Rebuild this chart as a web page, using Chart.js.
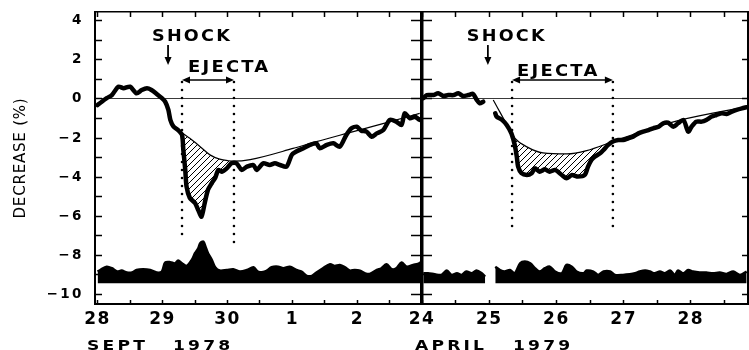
<!DOCTYPE html>
<html lang="en">
<head>
<meta charset="utf-8">
<title>Cosmic-ray decreases, Sept 1978 and April 1979</title>
<script src="https://cdn.jsdelivr.net/npm/chart.js@4.4.1/dist/chart.umd.min.js"></script>
<style>
  html, body { margin: 0; padding: 0; background: #fff; width: 749px; height: 350px; overflow: hidden; }
  canvas { position: absolute; top: 0; }
  #sept { left: 0; }
  #april { left: 400px; }
</style>
</head>
<body>
<canvas id="sept" width="424" height="360"></canvas>
<canvas id="april" width="349" height="360"></canvas>
<script>
// ---- Data ---------------------------------------------------------------
// Time is in days after 00 UT of the first labelled day of each panel.
const septTickLabels = ['28', '29', '30', '1', '2'];
const aprilTickLabels = ['24', '25', '26', '27', '28'];

// September 1978 event
const septDays = [0.00,0.065,0.14,0.22,0.32,0.40,0.50,0.60,0.68,0.76,0.83,0.91,0.99,1.04,1.09,1.12,1.17,1.24,1.30,1.32,1.35,1.37,1.42,1.50,1.55,1.60,1.65,1.70,1.76,1.81,1.86,1.91,1.99,2.06,2.14,2.22,2.30,2.40,2.45,2.55,2.65,2.73,2.81,2.91,2.99,3.06,3.17,3.27,3.37,3.42,3.53,3.63,3.73,3.83,3.91,3.99,4.06,4.14,4.22,4.30,4.40,4.50,4.60,4.68,4.73,4.81,4.88,4.96];
const septDecrease = [-0.31,-0.14,0.04,0.20,0.63,0.55,0.63,0.29,0.46,0.55,0.46,0.26,0.04,-0.14,-0.56,-1.07,-1.42,-1.59,-1.84,-2.60,-3.63,-4.49,-5.06,-5.32,-5.68,-6.02,-5.32,-4.65,-4.30,-4.04,-3.63,-3.72,-3.55,-3.29,-3.29,-3.63,-3.46,-3.38,-3.63,-3.29,-3.38,-3.29,-3.38,-3.46,-2.86,-2.69,-2.52,-2.35,-2.27,-2.52,-2.35,-2.27,-2.44,-1.84,-1.50,-1.42,-1.62,-1.67,-1.93,-1.76,-1.59,-1.07,-1.16,-1.33,-0.73,-0.99,-0.90,-1.07];
const septTrendDays = [1.17,1.24,1.30,1.32,1.42,1.58,1.73,1.88,2.01,2.10,2.35,3.01,3.37,3.88,4.45,4.96];
const septTrend = [-1.40,-1.58,-1.72,-1.78,-2.01,-2.44,-2.86,-3.08,-3.16,-3.18,-3.10,-2.53,-2.18,-1.72,-1.21,-0.74];
const septLowerDays = [0.00,0.04,0.14,0.22,0.30,0.37,0.45,0.53,0.60,0.70,0.81,0.91,0.99,1.04,1.12,1.19,1.24,1.30,1.37,1.45,1.50,1.55,1.58,1.63,1.67,1.70,1.76,1.81,1.88,1.99,2.09,2.19,2.30,2.40,2.47,2.58,2.68,2.78,2.86,2.96,3.06,3.14,3.22,3.30,3.37,3.47,3.58,3.65,3.73,3.81,3.88,3.96,4.04,4.12,4.19,4.30,4.37,4.45,4.53,4.60,4.68,4.76,4.86,4.93,4.98];
const septLower = [-8.83,-8.75,-8.58,-8.66,-8.83,-8.78,-8.88,-8.88,-8.75,-8.71,-8.75,-8.88,-8.83,-8.37,-8.35,-8.41,-8.27,-8.41,-8.54,-8.24,-7.89,-7.64,-7.38,-7.30,-7.64,-7.89,-8.24,-8.61,-8.78,-8.75,-8.71,-8.83,-8.75,-8.61,-8.83,-8.83,-8.61,-8.58,-8.66,-8.58,-8.75,-8.83,-9.05,-9.05,-8.88,-8.66,-8.46,-8.54,-8.49,-8.61,-8.78,-8.75,-8.78,-8.92,-8.95,-8.75,-8.66,-8.46,-8.71,-8.66,-8.37,-8.58,-8.49,-8.44,-8.35];
const septShock = 1.085;
const septEjecta = [1.30, 2.10];

// April 1979 event (null = no data)
const aprilDays = [0.02,0.07,0.17,0.24,0.32,0.39,0.47,0.54,0.61,0.69,0.76,0.81,0.86,0.91,1.00,1.09,1.11,1.19,1.26,1.33,1.38,1.41,1.43,1.48,1.56,1.63,1.68,1.75,1.83,1.90,1.98,2.08,2.15,2.23,2.32,2.42,2.47,2.52,2.57,2.65,2.70,2.77,2.84,2.92,2.99,3.07,3.14,3.22,3.29,3.37,3.44,3.52,3.59,3.66,3.74,3.81,3.89,3.96,4.01,4.08,4.16,4.23,4.31,4.38,4.46,4.53,4.61,4.68,4.76,4.83];
const aprilDecrease = [0.04,0.20,0.20,0.29,0.15,0.20,0.20,0.29,0.15,0.20,0.26,-0.02,-0.22,-0.14,null,-0.73,-0.90,-1.07,-1.33,-1.76,-2.35,-2.95,-3.46,-3.80,-3.89,-3.80,-3.55,-3.72,-3.60,-3.72,-3.63,-3.89,-4.06,-3.89,-3.97,-3.89,-3.46,-3.12,-2.95,-2.78,-2.61,-2.35,-2.18,-2.10,-2.10,-2.01,-1.93,-1.76,-1.67,-1.59,-1.50,-1.42,-1.24,-1.21,-1.42,-1.24,-1.07,-1.67,-1.42,-1.16,-1.16,-1.07,-0.90,-0.82,-0.73,-0.77,-0.65,-0.56,-0.48,-0.42];
const aprilTrendDays = [1.06,1.34,1.38,1.56,1.80,2.16,2.45,2.84,3.34,3.85,4.83];
const aprilTrend = [-0.05,-1.78,-2.00,-2.45,-2.76,-2.81,-2.64,-2.18,-1.59,-1.07,-0.39];
const aprilLowerDays = [0.02,0.09,0.19,0.29,0.37,0.44,0.52,0.59,0.66,0.74,0.81,0.89,0.94,1.00,1.09,1.16,1.23,1.31,1.38,1.46,1.53,1.61,1.68,1.75,1.83,1.90,1.98,2.08,2.15,2.23,2.30,2.40,2.45,2.55,2.62,2.70,2.80,2.87,2.99,3.09,3.17,3.24,3.32,3.39,3.46,3.54,3.61,3.69,3.76,3.81,3.89,3.96,4.03,4.13,4.23,4.33,4.43,4.53,4.63,4.73,4.83];
const aprilLower = [-8.92,-8.92,-8.97,-9.00,-8.78,-9.00,-8.92,-9.00,-8.83,-8.92,-8.78,-8.92,-9.09,null,-8.58,-8.75,-8.83,-8.75,-8.92,-8.41,-8.32,-8.41,-8.66,-8.83,-8.66,-8.58,-8.83,-8.92,-8.49,-8.58,-8.83,-8.92,-8.78,-8.83,-9.00,-8.83,-8.83,-9.00,-9.00,-8.97,-8.92,-8.83,-8.78,-8.83,-8.92,-8.83,-8.92,-8.78,-9.00,-8.78,-8.92,-8.75,-8.83,-8.88,-8.88,-8.92,-8.88,-8.95,-8.83,-9.00,-8.83];
const aprilShock = 0.98;
const aprilEjecta = [1.34, 2.84];

// ---- Styling helpers ----------------------------------------------------
const FONT = "'DejaVu Sans', 'Liberation Sans', sans-serif";
const INK = '#000';
const Y_MIN = -10.49, Y_MAX = 4.45;
const LOWER_BASE = -9.43;

Chart.defaults.font.family = FONT;
Chart.defaults.color = INK;

const xy = (xs, ys) => xs.map((x, i) => ({ x, y: ys[i] }));
const within = (xs, ys, [a, b]) => xy(xs, ys).filter(p => p.x >= a - 1e-6 && p.x <= b + 1e-6);

function hatchPattern() {
  const s = 6;
  const c = document.createElement('canvas');
  c.width = c.height = s;
  const g = c.getContext('2d');
  g.strokeStyle = INK;
  g.lineWidth = 1;
  g.beginPath();
  g.moveTo(0, s); g.lineTo(s, 0);
  g.moveTo(-s / 2, s / 2); g.lineTo(s / 2, -s / 2);
  g.moveTo(s / 2, s * 1.5); g.lineTo(s * 1.5, s / 2);
  g.stroke();
  return g.createPattern(c, 'repeat');
}
const HATCH = hatchPattern();

const dayLabel = labels => v => (Number.isInteger(v) && labels[v] !== undefined ? labels[v] : '');
const pctLabel = v => (v % 2 === 0 ? (v < 0 ? '\u2212' + (-v) : String(v)) : '');
const zeroLine = c => (c.tick && c.tick.value === 0 ? '#3a3a3a' : 'rgba(0,0,0,0)');

function noPad(s) { s.paddingTop = s.paddingBottom = s.paddingLeft = s.paddingRight = 0; }
const fixWidth = w => s => { s.width = w; noPad(s); };
const fixHeight = h => s => { s.height = h; noPad(s); };

const tickMarks = (len) => ({ drawOnChartArea: false, tickLength: len, tickColor: INK, tickWidth: 1.5 });

function xScales(min, max, labels) {
  return {
    x: {
      type: 'linear', axis: 'x', position: 'bottom', min, max,
      ticks: { stepSize: 0.5, includeBounds: false, autoSkip: false, maxRotation: 0, padding: 9,
               font: { family: FONT, size: 17, weight: 'bold' }, color: INK, callback: dayLabel(labels) },
      grid: tickMarks(-4),
      border: { color: INK, width: 2 },
      afterFit: fixHeight(56)
    },
    xTop: {
      type: 'linear', axis: 'x', position: 'top', min, max,
      ticks: { display: false, stepSize: 0.5, includeBounds: false },
      grid: tickMarks(-5),
      border: { color: INK, width: 1.5 },
      afterFit: fixHeight(0)
    }
  };
}

const yBase = { type: 'linear', axis: 'y', min: Y_MIN, max: Y_MAX };

function datasets(p) {
  const base = { pointRadius: 0, pointHoverRadius: 0, xAxisID: 'x', yAxisID: 'y', spanGaps: false };
  return [
    { ...base, label: 'Decrease', data: xy(p.days, p.decrease), borderColor: INK, borderWidth: 4.5,
      tension: 0.25, borderJoinStyle: 'round', borderCapStyle: 'round', fill: false },
    { ...base, label: 'Trend', data: xy(p.trendDays, p.trend), borderColor: INK, borderWidth: 1.2,
      cubicInterpolationMode: 'monotone', fill: false },
    { ...base, label: 'Ejecta deficit', data: within(p.trendDays, p.trend, p.ejecta), borderWidth: 0,
      borderColor: 'rgba(0,0,0,0)', cubicInterpolationMode: 'monotone', backgroundColor: HATCH, fill: { target: 0 } },
    { ...base, label: 'Lower trace', data: xy(p.lowerDays, p.lower), borderColor: INK, borderWidth: 2.5,
      tension: 0.3, backgroundColor: INK, fill: { value: LOWER_BASE } },
    ...p.ejecta.map((t, i) => ({
      ...base, label: 'Ejecta boundary', data: [{ x: t, y: p.markTop }, { x: t, y: p.markBottom[i] }],
      borderColor: INK, borderWidth: 2.6, borderDash: [0.1, 7.9], borderCapStyle: 'round', fill: false
    }))
  ];
}

// Per-scale letter spacing for tick labels and axis titles.
function letterSpacing(spec) {
  return {
    id: 'letterSpacing',
    beforeDraw(chart) {
      for (const scale of Object.values(chart.scales)) {
        if (scale.$spaced) continue;
        scale.$spaced = true;
        const s = spec[scale.id] || {};
        for (const [fn, key] of [['drawLabels', 'ticks'], ['drawTitle', 'title']]) {
          const orig = scale[fn];
          const px = s[key] || 0;
          scale[fn] = function (...a) {
            const c = this.ctx;
            c.save();
            c.letterSpacing = px + 'px';
            orig.apply(this, a);
            c.restore();
          };
        }
      }
    }
  };
}

function spacedText(ctx, text, x, baseline, size, spacing, stretch) {
  ctx.save();
  ctx.font = `bold ${size}px ${FONT}`;
  ctx.letterSpacing = spacing + 'px';
  ctx.textAlign = 'left';
  ctx.textBaseline = 'alphabetic';
  ctx.translate(x, baseline);
  ctx.scale(stretch, 1);
  ctx.fillText(text, 0, 0);
  ctx.restore();
}

// SHOCK / EJECTA annotations and the month-year caption.
function marks(p) {
  return {
    id: 'marks',
    afterDraw(chart) {
      const { ctx, chartArea: area, scales: { x, y } } = chart;
      const px = v => x.getPixelForValue(v);
      const py = v => y.getPixelForValue(v);
      ctx.save();
      ctx.strokeStyle = INK;
      ctx.fillStyle = INK;

      const sx = px(p.shock);
      spacedText(ctx, 'SHOCK', sx + p.shockDx, py(2.99), 16, 2, 1.1);
      const tip = py(1.74);
      ctx.lineWidth = 1.8;
      ctx.beginPath(); ctx.moveTo(sx, py(2.76)); ctx.lineTo(sx, tip - 4); ctx.stroke();
      ctx.beginPath(); ctx.moveTo(sx - 3.5, tip - 8); ctx.lineTo(sx, tip); ctx.lineTo(sx + 3.5, tip - 8); ctx.closePath(); ctx.fill();

      const e0 = px(p.ejecta[0]), e1 = px(p.ejecta[1]), ay = py(0.97);
      ctx.lineWidth = 1.6;
      ctx.beginPath(); ctx.moveTo(e0 + 3, ay); ctx.lineTo(e1 - 3, ay); ctx.stroke();
      ctx.beginPath(); ctx.moveTo(e0 + 8, ay - 3.5); ctx.lineTo(e0, ay); ctx.lineTo(e0 + 8, ay + 3.5); ctx.closePath(); ctx.fill();
      ctx.beginPath(); ctx.moveTo(e1 - 8, ay - 3.5); ctx.lineTo(e1, ay); ctx.lineTo(e1 - 8, ay + 3.5); ctx.closePath(); ctx.fill();
      spacedText(ctx, 'EJECTA', e0 + p.ejectaDx, py(p.ejectaBaseline), 16, 2, 1.12);

      for (const [word, dx] of p.words) spacedText(ctx, word, area.left + dx, 350, 13.5, 2.5, 1.27);
      ctx.restore();
    }
  };
}

function build(id, p) {
  return new Chart(document.getElementById(id), {
    type: 'line',
    data: { datasets: datasets(p) },
    options: {
      responsive: false, animation: false, devicePixelRatio: 1, events: [],
      layout: { padding: { top: 12, left: 0, right: p.padRight, bottom: 0 } },
      plugins: { legend: { display: false }, tooltip: { enabled: false } },
      scales: Object.assign(xScales(p.xMin, p.xMax, p.tickLabels), p.yScales)
    },
    plugins: [letterSpacing(p.spacing), marks(p)]
  });
}

// ---- September 1978 panel ----------------------------------------------
build('sept', {
  days: septDays, decrease: septDecrease, trendDays: septTrendDays, trend: septTrend,
  lowerDays: septLowerDays, lower: septLower, shock: septShock, ejecta: septEjecta,
  tickLabels: septTickLabels, xMin: -0.04, xMax: 4.98, padRight: 3,
  markTop: 0.87, markBottom: [-7.30, -7.47],
  shockDx: -16, ejectaDx: 6, ejectaBaseline: 1.38,
  words: [['SEPT', -8], ['1978', 78]],
  spacing: { x: { ticks: 1.5 }, y: { ticks: 2.5, title: 0.8 } },
  yScales: {
    y: {
      ...yBase, position: 'left',
      ticks: { stepSize: 1, includeBounds: false, autoSkip: false, padding: 18,
               font: { family: FONT, size: 13.5, weight: 'bold' }, color: INK, callback: pctLabel },
      grid: { color: zeroLine, lineWidth: 1, tickLength: -7, tickColor: INK, tickWidth: 1.5 },
      border: { color: INK, width: 2 },
      title: { display: true, text: 'DECREASE (%)', color: INK, font: { family: FONT, size: 15 }, padding: { top: 12, bottom: 0 } },
      afterFit: fixWidth(95)
    },
    yR: {
      ...yBase, position: 'right',
      ticks: { display: false, stepSize: 1, includeBounds: false },
      grid: tickMarks(-10),
      border: { color: INK, width: 1.5 },
      afterFit: fixWidth(0)
    }
  }
});

// ---- April 1979 panel ----------------------------------------------------
build('april', {
  days: aprilDays, decrease: aprilDecrease, trendDays: aprilTrendDays, trend: aprilTrend,
  lowerDays: aprilLowerDays, lower: aprilLower, shock: aprilShock, ejecta: aprilEjecta,
  tickLabels: aprilTickLabels, xMin: 0, xMax: 4.85, padRight: 1,
  markTop: 0.87, markBottom: [-6.87, -6.79],
  shockDx: -21, ejectaDx: 5, ejectaBaseline: 1.18,
  words: [['APRIL', -7], ['1979', 91]],
  spacing: { x: { ticks: 1.5 } },
  yScales: {
    y: {
      ...yBase, position: 'left',
      ticks: { display: false, stepSize: 1, includeBounds: false },
      grid: { color: zeroLine, lineWidth: 1, tickLength: -10, tickColor: INK, tickWidth: 1.5 },
      border: { color: INK, width: 2.5 },
      afterFit: fixWidth(22)
    },
    yR: {
      ...yBase, position: 'right',
      ticks: { display: false, stepSize: 2, includeBounds: false },
      grid: tickMarks(-6),
      border: { color: INK, width: 2 },
      afterFit: fixWidth(0)
    }
  }
});
</script>
</body>
</html>
